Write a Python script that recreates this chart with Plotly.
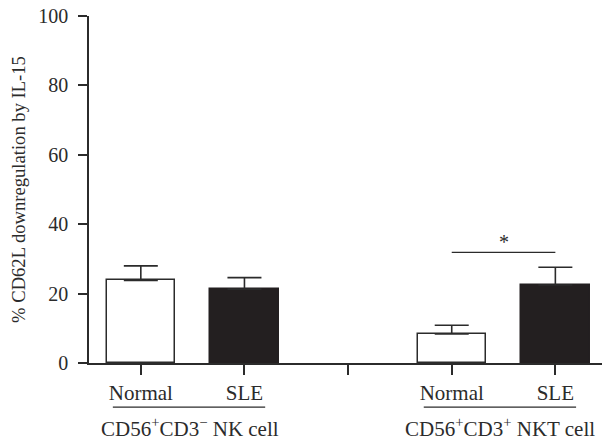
import plotly.graph_objects as go

# Data
positions = [0, 1, 2, 3, 4]
tick_labels = ["Normal", "SLE", "", "Normal", "SLE"]
normal_x = [0, 3]
normal_vals = [23.8, 8.4]
normal_err = [4.2, 2.5]
sle_x = [1, 4]
sle_vals = [21.3, 22.5]
sle_err = [3.3, 5.1]
group_labels = ["CD56<sup>+</sup>CD3<sup>−</sup> NK cell", "CD56<sup>+</sup>CD3<sup>+</sup> NKT cell"]
group_centers = [0.5, 3.5]
y_ticks = [0, 20, 40, 60, 80, 100]
sig_pair = [3, 4]
sig_y = 31.9

INK = "#2b2b2b"
FONT = "Liberation Serif"

fig = go.Figure()
fig.add_trace(go.Bar(
    x=normal_x, y=normal_vals, width=0.66,
    marker=dict(color="white", line=dict(color=INK, width=1.5)),
    error_y=dict(type="data", symmetric=False, array=normal_err, arrayminus=[0, 0],
                 color=INK, thickness=1.6, width=17),
    showlegend=False,
))
fig.add_trace(go.Bar(
    x=sle_x, y=sle_vals, width=0.66,
    marker=dict(color="#231f20", line=dict(color="#231f20", width=1.5)),
    error_y=dict(type="data", symmetric=False, array=sle_err, arrayminus=[0, 0],
                 color=INK, thickness=1.6, width=17),
    showlegend=False,
))

# significance line and star
fig.add_shape(type="line", xref="x", yref="y", x0=sig_pair[0], x1=sig_pair[1],
              y0=sig_y, y1=sig_y, line=dict(color=INK, width=1.2))
fig.add_annotation(x=sum(sig_pair) / 2, y=sig_y, yref="y", xref="x", text="*",
                   showarrow=False, yanchor="bottom", yshift=-3,
                   font=dict(family=FONT, size=20, color=INK))

# group lines and labels
for c, lab in zip(group_centers, group_labels):
    fig.add_shape(type="line", xref="x", yref="paper", x0=c - 0.77, x1=c + 0.7,
                  y0=-0.127, y1=-0.127, line=dict(color=INK, width=1.2))
    fig.add_annotation(x=c - 0.03, xref="x", y=-0.186, yref="paper", text=lab,
                       showarrow=False, yanchor="middle",
                       font=dict(family=FONT, size=21, color=INK))

fig.update_layout(
    width=602, height=442,
    margin=dict(l=89, r=0, t=16, b=79),
    plot_bgcolor="white", paper_bgcolor="white",
    font=dict(family=FONT, size=20, color=INK),
    bargap=0,
)
fig.update_xaxes(
    range=[-0.5, 4.45], tickvals=positions, ticktext=tick_labels,
    showline=True, linecolor=INK, linewidth=1.5,
    ticks="outside", ticklen=10, tickwidth=1.5, tickcolor=INK,
    showgrid=False, zeroline=False,
    tickfont=dict(family=FONT, size=21, color=INK),
)
fig.update_yaxes(
    range=[0, 100], tickvals=y_ticks,
    showline=True, linecolor=INK, linewidth=1.5,
    ticks="outside", ticklen=9, tickwidth=1.5, tickcolor=INK,
    ticklabelstandoff=6,
    showgrid=False, zeroline=False,
    tickfont=dict(family=FONT, size=20, color=INK),
    title=dict(text="% CD62L downregulation by IL-15", standoff=8,
               font=dict(family=FONT, size=18.6, color=INK)),
)

fig.write_html("out.html")
